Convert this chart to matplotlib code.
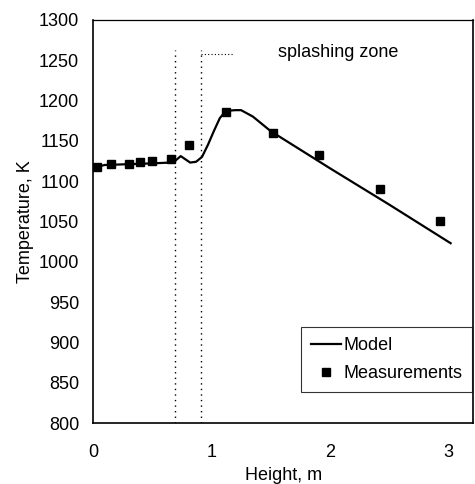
import matplotlib
matplotlib.use("Agg")
import matplotlib.pyplot as plt

# model curve
model_h = [0.0, 0.1, 0.3, 0.5, 0.65, 0.70, 0.74, 0.78, 0.82, 0.87, 0.92, 0.97,
           1.02, 1.07, 1.12, 1.20, 1.25, 1.35, 1.50, 2.00, 2.50, 3.02]
model_t = [1117, 1120, 1121, 1122, 1123, 1126, 1131, 1127, 1123, 1124, 1130, 1145,
           1162, 1178, 1187, 1188, 1188, 1180, 1162, 1116, 1071, 1023]

# measurements
meas_h = [0.03, 0.15, 0.30, 0.40, 0.50, 0.66, 0.81, 1.12, 1.52, 1.91, 2.42, 2.93]
meas_t = [1118, 1121, 1121, 1124, 1125, 1128, 1145, 1186, 1160, 1133, 1090, 1051]

zone_edges = [0.69, 0.91]

plt.rcParams['font.family'] = ['Liberation Sans', 'DejaVu Sans']

fig = plt.figure(figsize=(4.75, 4.84), dpi=100)
ax = fig.add_axes([0.196, 0.126, 0.8, 0.833])

ax.plot(model_h, model_t, color="black", linewidth=1.6, label="Model")
ax.plot(meas_h, meas_t, linestyle="none", marker="s", markersize=6,
        color="black", label="Measurements")

for xe in zone_edges:
    ax.plot([xe, xe], [800, 1262], color="black", linestyle=(0, (1, 3)), linewidth=1.0)
ax.plot([0.91, 1.18], [1258, 1258], color="black", linestyle=(0, (1, 2)), linewidth=0.8)
ax.text(1.56, 1259, "splashing zone", fontsize=13, va="center", ha="left")

ax.set_xlim(0, 3.21)
ax.set_ylim(800, 1300)
ax.set_xticks([0, 1, 2, 3])
ax.set_yticks(range(800, 1301, 50))
ax.tick_params(length=0, labelsize=13)
ax.tick_params(axis="y", pad=10)
ax.tick_params(axis="x", pad=15)
for sp in ax.spines.values():
    sp.set_linewidth(1.2)
ax.spines["top"].set_linewidth(0.9)

ax.set_xlabel("Height, m", fontsize=13, va="top")
ax.xaxis.set_label_coords(0.5, -0.108)
ax.set_ylabel("Temperature, K", fontsize=13, va="center")
ax.yaxis.set_label_coords(-0.177, 0.5)

leg = ax.legend(loc="lower right", bbox_to_anchor=(1.0, 0.075), fontsize=13,
                frameon=True, fancybox=False, edgecolor="black",
                handlelength=1.7, handletextpad=0.1, borderpad=0.55,
                labelspacing=0.6, borderaxespad=0.05)
leg.get_frame().set_linewidth(0.8)

fig.savefig("out.png", dpi=100)
